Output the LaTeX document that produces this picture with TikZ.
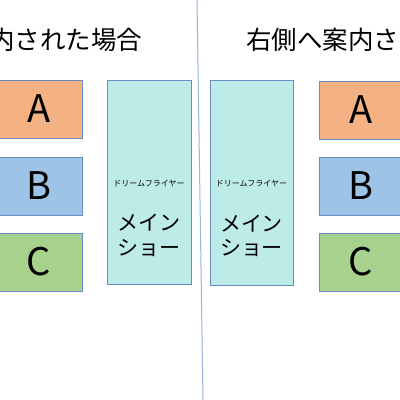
\documentclass[tikz,border=0pt]{standalone}
\usepackage{fontspec}
\setmainfont{Noto Sans CJK JP}
\begin{document}
\begin{tikzpicture}[x=1pt,y=-1pt,
  box/.style={draw=bordc, line width=0.9pt, inner sep=0pt, outer sep=0pt},
  letter/.style={font=\fontsize{38}{38}\selectfont},
  title/.style={font=\fontsize{25.5}{25.5}\selectfont, anchor=west, inner sep=0pt}]
\definecolor{bordc}{HTML}{6A8CC4}
\definecolor{orng}{HTML}{F4B183}
\definecolor{blu}{HTML}{9DC3E6}
\definecolor{grn}{HTML}{A9D18E}
\definecolor{teal}{HTML}{BDEBE8}
\definecolor{sep}{HTML}{9BB4E0}
\useasboundingbox (0,0) rectangle (400,400);
\clip (0,0) rectangle (400,400);
\fill[white] (0,0) rectangle (400,400);
% titles
\node[title] (tl) at (-113,40) {左側へ案内された場合};
\node[title] (tr) at (246,40) {右側へ案内された場合};
% separator
\coordinate (s1) at (197,-2);
\coordinate (s2) at (203,402);
\draw[sep, line width=1pt] (s1) -- (s2);
% left boxes
\node[box, fill=orng, minimum width=86, minimum height=58] (la) at (39,109) {};
\node[letter] at (la) {A};
\node[box, fill=blu, minimum width=86, minimum height=58] (lb) at (39,186) {};
\node[letter] at (lb) {B};
\node[box, fill=grn, minimum width=86, minimum height=58] (lc) at (39,262) {};
\node[letter] at (lc) {C};
% right boxes
\node[box, fill=orng, minimum width=84, minimum height=58] (ra) at (361,110) {};
\node[letter] at (ra) {A};
\node[box, fill=blu, minimum width=84, minimum height=58] (rb) at (361,186) {};
\node[letter] at (rb) {B};
\node[box, fill=grn, minimum width=84, minimum height=58] (rc) at (361,262) {};
\node[letter] at (rc) {C};
% tall boxes
\node[box, fill=teal, minimum width=84, minimum height=204] (lm) at (149,182) {};
\node[box, fill=teal, minimum width=83, minimum height=205] (rm) at (251.5,182.5) {};
\foreach \n in {lm,rm}{
  \node[font=\fontsize{8}{8}\selectfont] at ([yshift=-1]\n.center) {ドリームフライヤー};
  \node[font=\fontsize{21}{21}\selectfont] at ([yshift=-41]\n.center) {メイン};
  \node[font=\fontsize{21}{21}\selectfont] at ([yshift=-66]\n.center) {ショー};
}
\end{tikzpicture}
\end{document}
